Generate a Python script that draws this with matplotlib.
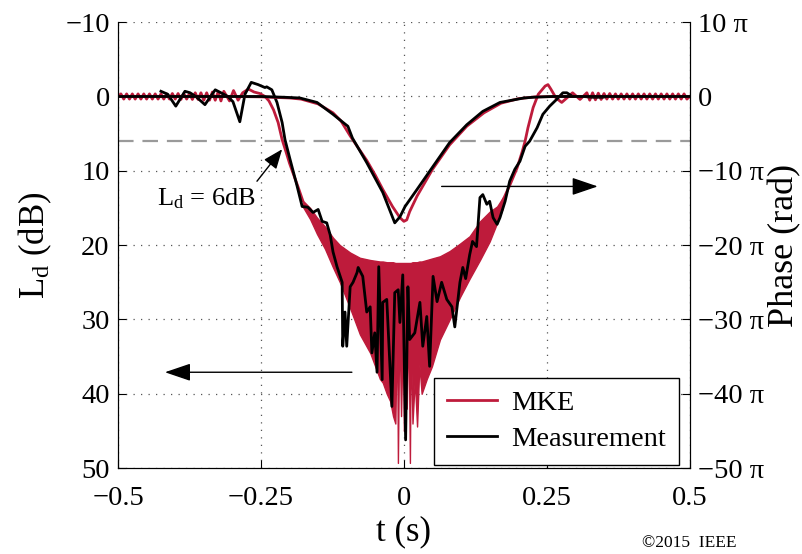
import numpy as np
import matplotlib
matplotlib.use("Agg")
import matplotlib.pyplot as plt

plt.rcParams['font.family'] = ['Liberation Serif', 'DejaVu Serif']
plt.rcParams['mathtext.fontset'] = 'custom'
plt.rcParams['mathtext.rm'] = 'Liberation Serif'
plt.rcParams['mathtext.it'] = 'Liberation Serif:italic'

red = '#BE1B3B'

# L_d of MKE: ripple at the left edge (sampled every 5 ms), then the fall-off
mke_ripple_left = [0.0, -0.35, 0.35, -0.35, 0.35, -0.35, 0.35, -0.35, 0.35, -0.35,
                   0.35, -0.35, 0.35, -0.35, 0.35, -0.35, 0.35, -0.35, 0.35, -0.4,
                   0.35, -0.4, 0.4, -0.4, 0.35, -0.4, 0.4, -0.5, 0.4, -0.5,
                   0.5, -0.5, 0.5, -0.6, 0.5, -0.6, 0.6, -0.7]
mke_fall_t = [-0.305, -0.298, -0.290, -0.282, -0.272, -0.262, -0.252, -0.243,
              -0.236, -0.228, -0.220, -0.213, -0.206, -0.200, -0.193, -0.185, -0.177]
mke_fall_ld = [0.6, -0.8, 0.5, -0.5, -1.0, -0.6, -0.4, 0.0,
               0.6, 1.8, 3.5, 5.8, 7.5, 9.0, 10.5, 12.2, 14.0]

# fast oscillating middle part of MKE: upper and lower envelopes
band_t = [-0.177, -0.164, -0.152, -0.138, -0.124, -0.112, -0.094, -0.077, -0.059,
          -0.042, -0.037, -0.030, -0.024, -0.019, -0.015, -0.012, -0.0105, -0.008,
          -0.005, -0.002, 0.0, 0.002, 0.005, 0.008, 0.0105, 0.012, 0.015, 0.019,
          0.023, 0.027, 0.031, 0.040, 0.049, 0.063, 0.080, 0.098, 0.115, 0.133,
          0.150, 0.163, 0.173]
band_top = [14.0, 15.0, 16.3, 17.5, 19.0, 20.0, 21.0, 21.7, 22.0,
            22.2, 22.2, 22.3, 22.3, 22.3, 22.4, 22.4, 22.4, 22.4,
            22.4, 22.4, 22.4, 22.4, 22.4, 22.4, 22.4, 22.4, 22.3, 22.3,
            22.3, 22.2, 22.2, 22.0, 21.8, 21.5, 20.8, 19.8, 18.8, 16.8,
            15.5, 14.8, 13.6]
band_bottom = [14.8, 16.5, 18.5, 20.5, 23.0, 25.0, 28.5, 32.0, 34.5,
               38.0, 38.5, 40.0, 41.0, 43.0, 44.0, 30.0, 49.3, 30.0,
               43.0, 32.0, 45.0, 32.0, 42.0, 30.0, 49.3, 32.0, 44.0, 38.0,
               44.4, 36.0, 40.0, 38.0, 36.3, 32.7, 30.0, 27.0, 24.5, 22.0,
               19.5, 17.0, 15.0]

mke_rise_t = [0.173, 0.180, 0.186, 0.198, 0.207, 0.212, 0.217, 0.226, 0.235,
              0.247, 0.252, 0.257, 0.266, 0.276, 0.285, 0.295, 0.308, 0.320]
mke_rise_ld = [14.0, 12.8, 11.8, 9.6, 7.4, 6.0, 4.2, 1.5, -0.3,
               -1.4, -1.6, -1.0, 0.2, 0.8, 0.2, -0.5, 0.4, -0.5]
mke_ripple_right = [0.5, -0.5, 0.45, -0.45, 0.4, -0.4, 0.35, -0.4, 0.35, -0.35,
                    0.35, -0.35, 0.35, -0.35, 0.35, -0.35, 0.35, -0.35, 0.35, -0.35,
                    0.35, -0.35, 0.35, -0.35, 0.35, -0.35, 0.35, -0.35, 0.35, -0.35,
                    0.35, -0.35, 0.35, -0.35, 0.35, 0.0]

# L_d of the measurement
meas_t = [-0.425, -0.413, -0.399, -0.383, -0.374, -0.364, -0.348, -0.330, -0.320,
          -0.308, -0.299, -0.287, -0.278, -0.267, -0.255, -0.243, -0.240, -0.231,
          -0.222, -0.213, -0.208, -0.199, -0.187, -0.178, -0.168, -0.159, -0.150,
          -0.143, -0.135, -0.129, -0.124, -0.117, -0.108, -0.107, -0.103, -0.100,
          -0.094, -0.089, -0.082, -0.080, -0.072, -0.065, -0.059, -0.056, -0.051,
          -0.047, -0.044, -0.038, -0.037, -0.030, -0.021, -0.016, -0.010, -0.007,
          -0.002, 0.003, 0.007, 0.010, 0.019, 0.028, 0.033, 0.040, 0.045,
          0.051, 0.058, 0.066, 0.075, 0.084, 0.089, 0.098, 0.103, 0.108,
          0.115, 0.120, 0.127, 0.133, 0.138, 0.145, 0.150, 0.156, 0.163,
          0.168, 0.177, 0.185, 0.194, 0.203, 0.212, 0.220, 0.233, 0.243,
          0.255, 0.267, 0.278, 0.285, 0.295, 0.313, 0.330, 0.348, 0.355]
meas_ld = [-0.7, -0.3, 1.3, -0.7, -0.5, 0.0, 1.1, -0.9, -0.5,
           0.0, 0.7, 3.4, -0.3, -1.9, -1.6, -1.2, -1.3, -0.9,
           0.8, 3.5, 5.8, 8.5, 12.0, 14.8, 14.9, 15.6, 15.2,
           16.8, 17.0, 18.6, 20.9, 22.9, 25.0, 33.6, 29.0, 33.6,
           25.6, 25.0, 23.7, 23.0, 24.2, 29.0, 28.3, 34.5, 31.8,
           37.1, 22.9, 38.1, 27.7, 27.3, 41.7, 26.4, 26.0, 30.4,
           24.0, 46.2, 25.6, 32.7, 31.8, 27.7, 33.6, 29.6, 36.3,
           24.2, 27.6, 25.0, 27.3, 28.3, 31.0, 25.0, 23.0, 24.5,
           21.3, 19.5, 20.2, 13.6, 13.2, 14.5, 14.1, 16.3, 17.2,
           16.3, 14.1, 11.4, 9.8, 8.7, 6.7, 6.0, 4.2, 2.4,
           1.3, 0.4, -0.5, -0.5, 0.0, 0.0, 0.1, 0.1, 0.0]

# phase in units of pi
phase_t_mke = [-0.5, -0.30, -0.25, -0.20, -0.18, -0.15, -0.124, -0.11, -0.094, -0.08,
               -0.065, -0.05, -0.037, -0.02, -0.007, 0.0, 0.005, 0.01, 0.023, 0.05,
               0.08, 0.11, 0.14, 0.17, 0.20, 0.23, 0.28, 0.5]
phase_mke = [0, 0, -0.05, -0.2, -0.35, -1.0, -2.2, -3.3, -5.3, -6.9,
             -8.6, -10.6, -12.5, -14.8, -16.3, -16.8, -16.6, -15.5, -13.4, -9.8,
             -6.5, -4.0, -2.2, -0.9, -0.3, -0.05, 0, 0.0]
phase_t_meas = [-0.5, -0.25, -0.21, -0.182, -0.152, -0.124, -0.103, -0.098, -0.090, -0.065,
                -0.037, -0.016, -0.007, 0.002, 0.023, 0.051, 0.080, 0.110, 0.138, 0.168,
                0.21, 0.226, 0.26, 0.5]
phase_meas = [0, 0, -0.1, -0.2, -0.8, -2.4, -3.7, -4.0, -5.6, -8.9,
              -12.9, -17.0, -16.2, -14.8, -12.5, -9.4, -6.2, -3.8, -2.0, -0.8,
              -0.2, -0.1, 0, 0]

xticks = [-0.5, -0.25, 0, 0.25, 0.5]
xtick_labels = ['\u22120.5', '\u22120.25', '0', '0.25', '0.5']
yticks = [-10, 0, 10, 20, 30, 40, 50]
phase_ticks = [10, 0, -10, -20, -30, -40, -50]
phase_labels = ['10 \u03c0', '0', '\u221210 \u03c0', '\u221220 \u03c0',
                '\u221230 \u03c0', '\u221240 \u03c0', '\u221250 \u03c0']

fig = plt.figure(figsize=(8.03, 5.54), dpi=100)
ax = fig.add_axes([0.147, 0.155, 0.712, 0.805])
ax2 = ax.twinx()

# MKE L_d
t_left = np.linspace(-0.5, -0.315, len(mke_ripple_left))
t_right = np.linspace(0.325, 0.5, len(mke_ripple_right))
ax.plot(np.concatenate([t_left, mke_fall_t]), mke_ripple_left + mke_fall_ld,
        color=red, lw=2.0, zorder=3)
ax.fill_between(band_t, band_top, band_bottom, color=red, lw=1.0, zorder=3)
ax.plot(np.concatenate([mke_rise_t, t_right]), mke_rise_ld + mke_ripple_right,
        color=red, lw=2.0, zorder=3)
# measurement L_d
ax.plot(meas_t, meas_ld, color='black', lw=2.0, zorder=4)

# 6 dB reference
ax.axhline(6, color='#9a9a9a', lw=1.6, ls=(0, (7, 4)), zorder=2)

ax.set_xlim(-0.5, 0.5)
ax.set_ylim(50, -10)
ax.set_xticks(xticks)
ax.set_xticklabels(xtick_labels)
ax.set_yticks(yticks)
ax.grid(True, ls=(0, (1, 5)), color='#555555', lw=0.9)
ax.spines['top'].set_visible(False)
ax.tick_params(direction='in', length=6, labelsize=20.5, top=False, right=False, pad=6)
ax.tick_params(axis='x', pad=13)
ax.set_xlabel('t (s)', fontsize=25, labelpad=3)
ax.set_ylabel(r'L$_\mathrm{d}$ (dB)', fontsize=25, labelpad=8)

# phase
ax2.plot(phase_t_mke, phase_mke, color=red, lw=2.0)
ax2.plot(phase_t_meas, phase_meas, color='black', lw=2.0)
ax2.set_ylim(-50, 10)
ax2.set_yticks(phase_ticks)
ax2.set_yticklabels(phase_labels)
ax2.spines['top'].set_visible(False)
ax2.tick_params(direction='in', length=6, labelsize=20.5, pad=6)
ax2.set_ylabel('Phase (rad)', fontsize=26, labelpad=3)

# arrows pointing to the axes
arrow = dict(arrowstyle='-|>,head_length=1.0,head_width=0.34', color='black',
             lw=1.0, mutation_scale=16, shrinkA=0, shrinkB=0)
ax.annotate('', xy=(-0.418, 37.1), xytext=(-0.091, 37.1), arrowprops=arrow)
ax.annotate('', xy=(0.339, 12.1), xytext=(0.066, 12.1), arrowprops=arrow)
ax.annotate('', xy=(-0.213, 7.1), xytext=(-0.257, 11.4),
            arrowprops=dict(arrowstyle='-|>,head_length=1.0,head_width=0.4', color='black',
                            lw=1.0, mutation_scale=12, shrinkA=0, shrinkB=0))
ax.text(-0.432, 13.7, r'L$_\mathrm{d}$ = 6dB', fontsize=19, ha='left', va='center')

handles = [plt.Line2D([], [], color=red, lw=2.0), plt.Line2D([], [], color='black', lw=2.0)]
leg = ax2.legend(handles, ['MKE', 'Measurement'], loc='lower right',
                 bbox_to_anchor=(0.981, 0.007), borderaxespad=0, fontsize=20.5,
                 fancybox=False, framealpha=1, edgecolor='black', handlelength=1.75,
                 handletextpad=0.5, labelspacing=0.35, borderpad=0.45)
leg.get_frame().set_linewidth(1.0)

fig.text(0.917, 0.006, '\u00a92015  IEEE', fontsize=12.5, ha='right', va='bottom')

fig.savefig('out.png', dpi=100)
